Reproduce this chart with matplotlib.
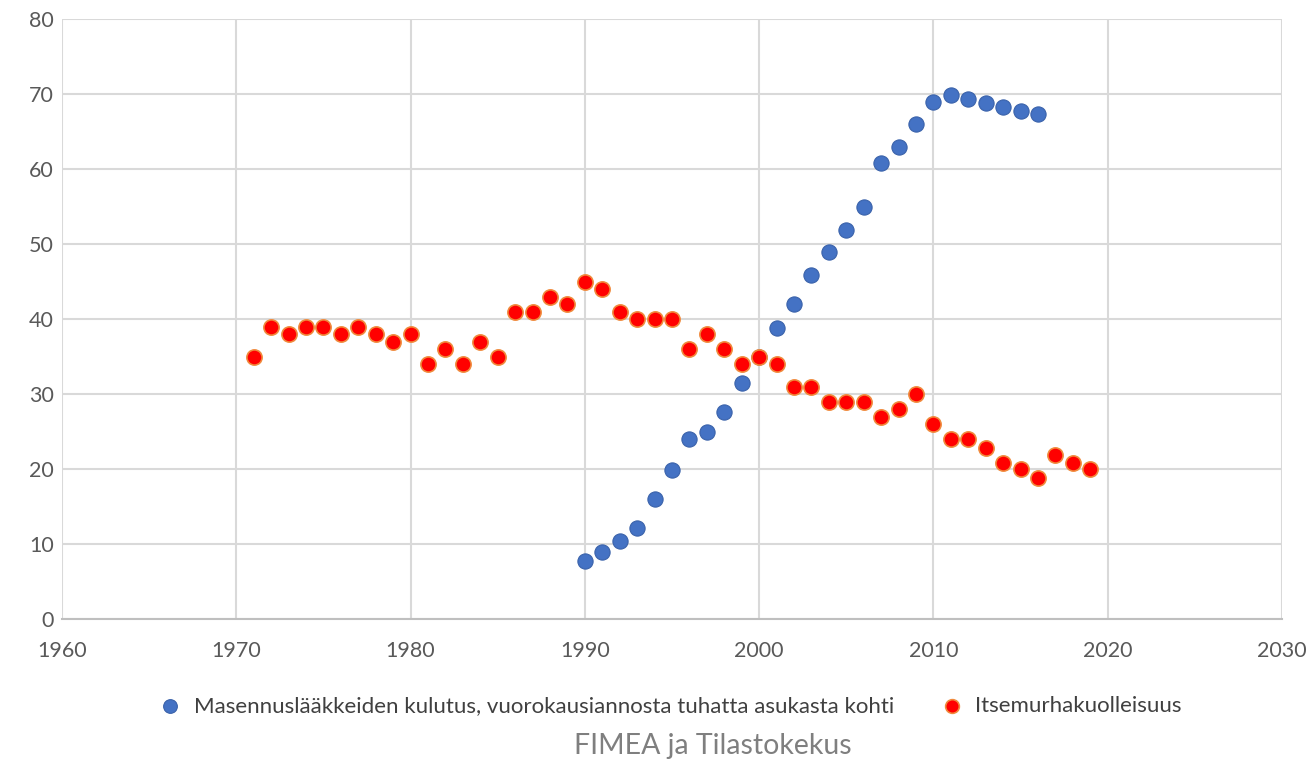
import numpy as np
import matplotlib.pyplot as plt

# masennuslääkkeiden kulutus (DDD / 1000 asukasta / vrk)
years_med = list(range(1990, 2017))
med = [7.8, 8.9, 10.4, 12.1, 16.0, 19.9, 24.0, 24.9, 27.6, 31.5, 35.0,
       38.8, 42.0, 45.9, 48.9, 51.9, 54.9, 60.8, 62.9, 66.0, 68.9,
       69.9, 69.3, 68.8, 68.3, 67.7, 67.3]

# itsemurhakuolleisuus
years_sui = list(range(1971, 2020))
sui = [34.9, 39, 38, 39, 39, 38, 39, 38, 37, 38,
       34, 36, 34, 37, 35, 41, 41, 43, 42, 45,
       44, 41, 40, 40, 40, 36, 38, 36, 34, 35,
       34, 31, 31, 28.9, 29, 29, 27, 28, 30, 26,
       24, 24, 22.8, 20.8, 20, 18.8, 21.9, 20.8, 20]

plt.rcParams['font.family'] = ['Lato', 'DejaVu Sans']

fig = plt.figure(figsize=(13.12, 7.64), dpi=100)
ax = fig.add_axes([0.0473, 0.1898, 0.9298, 0.7852])

ax.scatter(years_med, med, s=120, color='#4472C4', edgecolor='#3A62AA',
           linewidth=0.8, zorder=3,
           label='Masennuslääkkeiden kulutus, vuorokausiannosta tuhatta asukasta kohti')
ax.scatter(years_sui, sui, s=120, color='#FF0000', edgecolor='#F08A3C',
           linewidth=1.2, zorder=4, label='Itsemurhakuolleisuus')

ax.set_xlim(1960, 2030)
ax.set_ylim(0, 80)
ax.set_xticks(np.arange(1960, 2031, 10))
ax.set_yticks(np.arange(0, 81, 10))
ax.grid(True, color='#D9D9D9', linewidth=1.5, zorder=0)
ax.set_axisbelow(True)
for s in ['top', 'right', 'left']:
    ax.spines[s].set_visible(False)
ax.spines['bottom'].set_color('#BFBFBF')
ax.spines['bottom'].set_linewidth(1.5)
ax.tick_params(length=0, labelsize=15.5, labelcolor='#595959')
ax.tick_params(axis='x', pad=16)
ax.tick_params(axis='y', pad=6)

ax.legend(loc='upper center', bbox_to_anchor=(0.494, -0.095), ncol=2,
          frameon=False, fontsize=16, handletextpad=0.05, columnspacing=1.6,
          labelcolor='#404040', markerscale=0.9)

fig.text(0.5435, 0.006, 'FIMEA ja Tilastokekus', ha='center', va='bottom',
         fontsize=20.5, color='#7F7F7F')

fig.savefig('out.png', dpi=100)
